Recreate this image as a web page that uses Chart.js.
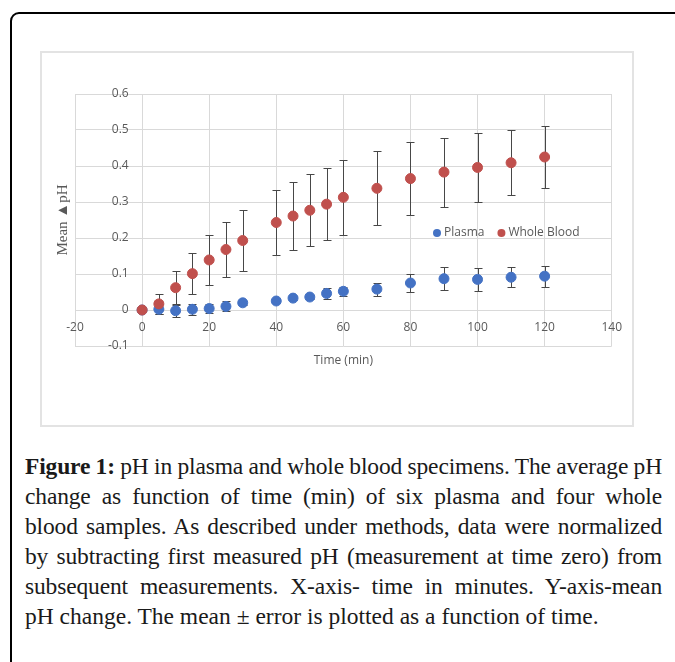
<!DOCTYPE html>
<html>
<head>
<meta charset="utf-8">
<script src="https://cdn.jsdelivr.net/npm/chart.js@4.4.0/dist/chart.umd.min.js"></script>
<style>
  html, body { margin: 0; padding: 0; background: #fff; overflow: hidden; }
  body { width: 675px; height: 662px; position: relative; }
  .frame { position: absolute; left: 10px; top: 12px; width: 720px; height: 720px; border: 2px solid #000; border-top-left-radius: 9px; box-sizing: border-box; }
  .plotbox { position: absolute; left: 40px; top: 51px; width: 594px; height: 376px; border: 2px solid #e3e3e3; box-sizing: border-box; }
  #chart { position: absolute; left: 42px; top: 53px; }
  .caption { position: absolute; left: 25px; top: 451px; width: 637px; font-family: "Liberation Serif", serif; font-size: 23.5px; line-height: 30px; color: #1a1a1a; }
  .caption div { text-align: justify; text-align-last: justify; white-space: nowrap; letter-spacing: -0.15px; }
  .caption div.first { word-spacing: -1.5px; }
  .caption div.last { text-align-last: left; letter-spacing: 0; }
</style>
</head>
<body>
<div class="frame"></div>
<div class="plotbox"></div>
<canvas id="chart" width="590" height="372"></canvas>
<div class="caption">
  <div class="first"><b>Figure 1:</b> pH in plasma and whole blood specimens. The average pH</div>
  <div>change as function of time (min) of six plasma and four whole</div>
  <div>blood samples. As described under methods, data were normalized</div>
  <div>by subtracting first measured pH (measurement at time zero) from</div>
  <div>subsequent measurements. X-axis- time in minutes. Y-axis-mean</div>
  <div class="last">pH change. The mean ± error is plotted as a function of time.</div>
</div>
<script>
// time points (min)
const times = [0, 5, 10, 15, 20, 25, 30, 40, 45, 50, 55, 60, 70, 80, 90, 100, 110, 120];

// mean delta pH and error
const plasmaMean = [0, 0.002, -0.002, 0.002, 0.004, 0.010, 0.020, 0.025, 0.033, 0.036, 0.046, 0.052, 0.058, 0.075, 0.087, 0.085, 0.091, 0.094];
const plasmaErr  = [0, 0.014, 0.017, 0.015, 0.013, 0.014, 0.006, 0.006, 0.006, 0.006, 0.015, 0.013, 0.018, 0.024, 0.032, 0.031, 0.028, 0.029];
const bloodMean  = [0, 0.017, 0.062, 0.101, 0.139, 0.168, 0.193, 0.243, 0.261, 0.277, 0.294, 0.313, 0.338, 0.365, 0.383, 0.396, 0.409, 0.425];
const bloodErr   = [0, 0.028, 0.046, 0.056, 0.069, 0.077, 0.084, 0.091, 0.095, 0.100, 0.100, 0.105, 0.103, 0.102, 0.096, 0.095, 0.090, 0.085];

const seriesNames = ['Plasma', 'Whole Blood'];
const xTitle = 'Time (min)';
const yTitle = 'Mean \u25B2pH';

const tickFont = { family: '"Open Sans", sans-serif', size: 12 };
const textGray = '#595959';
const gridGray = '#d9d9d9';

function toPoints(xs, ys) {
    return xs.map((t, i) => ({ x: t, y: ys[i] }));
}

// error bars drawn under the markers
const errorBars = {
    id: 'errorBars',
    beforeDatasetsDraw(chart) {
        const { ctx, scales: { x, y } } = chart;
        ctx.save();
        ctx.strokeStyle = '#474747';
        ctx.lineWidth = 1;
        chart.data.datasets.forEach(ds => {
            ds.data.forEach((p, i) => {
                const e = ds.errors[i];
                if (!e) return;
                const px = Math.round(x.getPixelForValue(p.x)) + 0.5;
                const top = Math.round(y.getPixelForValue(p.y + e)) + 0.5;
                const bot = Math.round(y.getPixelForValue(p.y - e)) + 0.5;
                ctx.beginPath();
                ctx.moveTo(px, top); ctx.lineTo(px, bot);
                ctx.moveTo(px - 4, top); ctx.lineTo(px + 4, top);
                ctx.moveTo(px - 4, bot); ctx.lineTo(px + 4, bot);
                ctx.stroke();
            });
        });
        ctx.restore();
    }
};

// axis titles and the in-plot legend
const decorations = {
    id: 'decorations',
    afterDraw(chart) {
        const { ctx, chartArea } = chart;
        ctx.save();
        ctx.fillStyle = textGray;
        ctx.textBaseline = 'middle';

        ctx.font = '12px "Open Sans", sans-serif';
        ctx.textAlign = 'center';
        ctx.fillText(xTitle, (chartArea.left + chartArea.right) / 2, chartArea.bottom + 15);

        ctx.save();
        ctx.translate(21, (chartArea.top + chartArea.bottom) / 2);
        ctx.rotate(-Math.PI / 2);
        ctx.font = '15px "Liberation Serif", serif';
        ctx.fillText(yTitle, 0, 0);
        ctx.restore();

        // legend
        ctx.textAlign = 'left';
        ctx.font = '12px "Open Sans", sans-serif';
        let lx = chartArea.left + 362;
        const ly = chartArea.top + 139;
        chart.data.datasets.forEach(ds => {
            ctx.fillStyle = ds.backgroundColor;
            ctx.beginPath();
            ctx.arc(lx, ly, 4, 0, Math.PI * 2);
            ctx.fill();
            ctx.fillStyle = textGray;
            ctx.fillText(ds.label, lx + 7, ly);
            lx += 7 + ctx.measureText(ds.label).width + 17;
        });
        ctx.restore();
    }
};

new Chart(document.getElementById('chart'), {
    type: 'scatter',
    data: {
        datasets: [
            {
                label: seriesNames[0],
                data: toPoints(times, plasmaMean),
                errors: plasmaErr,
                backgroundColor: '#4472c4',
                borderColor: '#4472c4',
                pointRadius: 5,
                pointBorderWidth: 1,
                order: 1
            },
            {
                label: seriesNames[1],
                data: toPoints(times, bloodMean),
                errors: bloodErr,
                backgroundColor: '#c0504d',
                borderColor: '#c0504d',
                pointRadius: 5,
                pointBorderWidth: 1,
                order: 0
            }
        ]
    },
    options: {
        responsive: false,
        animation: false,
        devicePixelRatio: 1,
        layout: { padding: { left: 33, top: 41, right: 20, bottom: 79 } },
        plugins: {
            legend: { display: false },
            tooltip: { enabled: false }
        },
        scales: {
            x: {
                type: 'linear',
                position: { y: 0 },
                min: -20,
                max: 140,
                ticks: { stepSize: 20, color: textGray, font: tickFont, padding: 10, maxRotation: 0 },
                grid: { color: gridGray, drawTicks: false },
                border: { color: gridGray },
                afterFit(scale) { scale.height = 0; }
            },
            y: {
                type: 'linear',
                position: { x: -4 },
                min: -0.1,
                max: 0.6,
                ticks: {
                    stepSize: 0.1, color: textGray, font: tickFont,
                    callback: v => String(parseFloat(v.toFixed(2)))
                },
                grid: { color: gridGray, drawTicks: false },
                border: { display: false },
                afterFit(scale) { scale.width = 0; }
            }
        }
    },
    plugins: [errorBars, decorations]
});
</script>
</body>
</html>
